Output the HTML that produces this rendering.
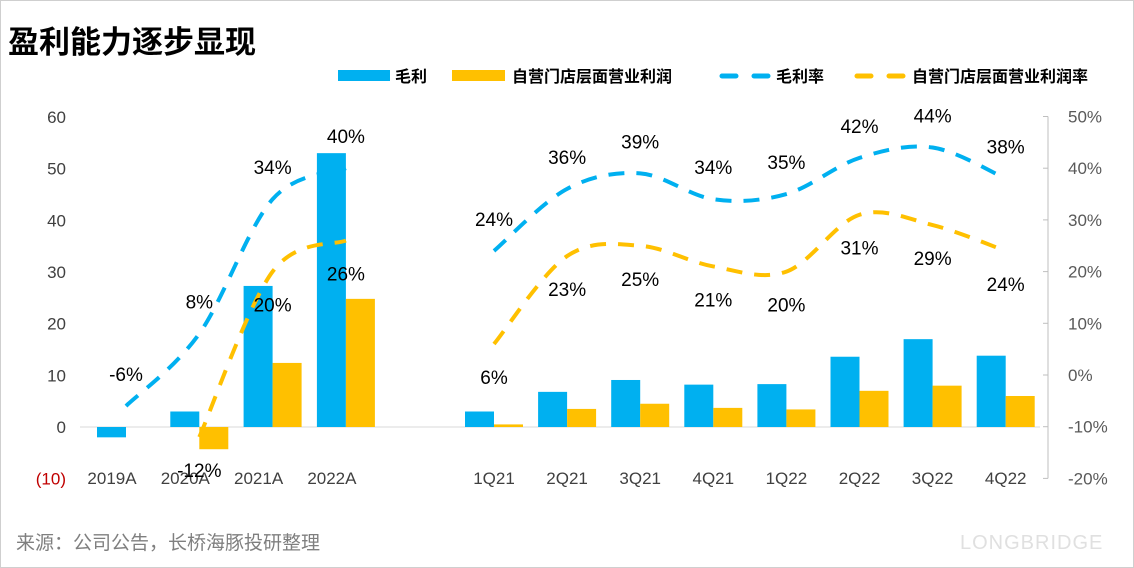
<!DOCTYPE html>
<html><head><meta charset="utf-8">
<style>
html,body{margin:0;padding:0;background:#fff;}
body{width:1134px;height:568px;overflow:hidden;position:relative;font-family:"Liberation Sans","Noto Sans CJK SC",sans-serif;}
.frame{position:absolute;left:0;top:0;width:1132px;height:566px;border:1px solid #cfcfcf;}
</style></head>
<body>
<div class="frame"></div>
<svg id="chart" width="1134" height="568" style="position:absolute;left:0;top:0">
<text x="8" y="53" font-size="31" font-weight="bold" fill="#000" font-family="Liberation Sans,Noto Sans CJK SC,sans-serif">盈利能力逐步显现</text>
<text x="16" y="549" font-size="19" fill="#7f7f7f" font-family="Liberation Sans,Noto Sans CJK SC,sans-serif">来源：公司公告，长桥海豚投研整理</text>
<text x="960" y="549" font-size="20" fill="#e0e0e0" letter-spacing="1">LONGBRIDGE</text>
<g font-size="16" font-weight="bold" font-family="Liberation Sans,Noto Sans CJK SC,sans-serif">
<rect x="338" y="70" width="52" height="11" fill="#00b0f0"/>
<text x="395" y="82">毛利</text>
<rect x="452" y="70" width="53" height="11" fill="#ffc000"/>
<text x="512" y="82">自营门店层面营业利润</text>
<line x1="722" y1="76" x2="772" y2="76" stroke="#00b0f0" stroke-width="5" stroke-dasharray="14 18" stroke-linecap="round"/>
<text x="776" y="82">毛利率</text>
<line x1="857" y1="76" x2="907" y2="76" stroke="#ffc000" stroke-width="5" stroke-dasharray="14 18" stroke-linecap="round"/>
<text x="912" y="82">自营门店层面营业利润率</text>
</g>
<g id="g"></g>
</svg>
<script>
const categories=["2019A","2020A","2021A","2022A","1Q21","2Q21","3Q21","4Q21","1Q22","2Q22","3Q22","4Q22"];
const grossProfit=[-2,3,27.3,53,3,6.8,9.1,8.2,8.3,13.6,17,13.8];
const storeProfit=[0,-4.3,12.4,24.8,0.5,3.5,4.5,3.7,3.4,7,8,6];
const grossMargin=[-6,8,34,40,24,36,39,34,35,42,44,38];
const storeMargin=[null,-12,20,26,6,23,25,21,20,31,29,24];
const leftTicks=[60,50,40,30,20,10,0,-10];
const leftTickLabels=["60","50","40","30","20","10","0","(10)"];
const rightTicks=[50,40,30,20,10,0,-10,-20];
const NS="http://www.w3.org/2000/svg";
const g=document.getElementById('g');
function xl(i){return i<4?112+i*73.3:494+(i-4)*73.1;}
function x(i){return i<4?xl(i)+14:xl(i);}
function yL(v){return 427-v*5.167;}
function yR(v){return 375-v*5.17;}
function mk(tag,attrs,txt){const e=document.createElementNS(NS,tag);for(const k in attrs)e.setAttribute(k,attrs[k]);if(txt!==undefined)e.textContent=txt;g.appendChild(e);return e;}
let e=mk('line',{x1:80,x2:1040,y1:yL(0),y2:yL(0),stroke:'#d9d9d9'});


leftTicks.forEach((t,i)=>{const el=mk('text',{x:66,y:yL(t)+6,'text-anchor':'end','font-size':17,fill:t<0?'#c00000':'#404040'},leftTickLabels[i]);

});
rightTicks.forEach(t=>{const el=mk('text',{x:1068,y:yR(t)+6,'font-size':17,fill:'#595959'},t+'%');

});
const ra=mk('line',{x1:1048,x2:1048,y1:yR(50),y2:yR(-20),stroke:'#bfbfbf'});


rightTicks.forEach(t=>{const tk=mk('line',{x1:1043,x2:1048,y1:yR(t),y2:yR(t),stroke:'#bfbfbf'});

});
categories.forEach((c,i)=>{const el=mk('text',{x:xl(i),y:484,'text-anchor':'middle','font-size':17,fill:'#404040'},c);

});
const bw=29;
categories.forEach((c,i)=>{
 let v=grossProfit[i];
 let b=mk('rect',{x:x(i)-bw,y:Math.min(yL(v),yL(0)),width:bw,height:Math.abs(yL(v)-yL(0)),fill:'#00b0f0'});
 
 
 v=storeProfit[i];
 let b2=mk('rect',{x:x(i),y:Math.min(yL(v),yL(0)),width:bw,height:Math.abs(yL(v)-yL(0)),fill:'#ffc000'});
 
 
});
function smooth(pts){let d='M'+pts[0][0]+','+pts[0][1];for(let i=0;i<pts.length-1;i++){const p0=pts[i-1]||pts[i],p1=pts[i],p2=pts[i+1],p3=pts[i+2]||p2;const c1=[p1[0]+(p2[0]-p0[0])/6,p1[1]+(p2[1]-p0[1])/6],c2=[p2[0]-(p3[0]-p1[0])/6,p2[1]-(p3[1]-p1[1])/6];d+=' C'+c1+' '+c2+' '+p2;}return d;}
function series(vals,color,name,dy){
 const groups=[[0,4],[4,12]];
 groups.forEach(([a,b])=>{const pts=[];for(let i=a;i<b;i++)if(vals[i]!==null)pts.push([x(i),yR(vals[i])]);
  const p=mk('path',{d:smooth(pts),fill:'none',stroke:color,'stroke-width':4,'stroke-dasharray':'16 12'});
  
  });
 vals.forEach((v,i)=>{if(v===null)return;const t=mk('text',{x:x(i),y:yR(v)+dy,'text-anchor':'middle','font-size':19,fill:'#000'},v+'%');
  
  });
}
series(grossMargin,'#00b0f0','gross-margin',-25);
series(storeMargin,'#ffc000','store-margin',40);
</script>
</body></html>
